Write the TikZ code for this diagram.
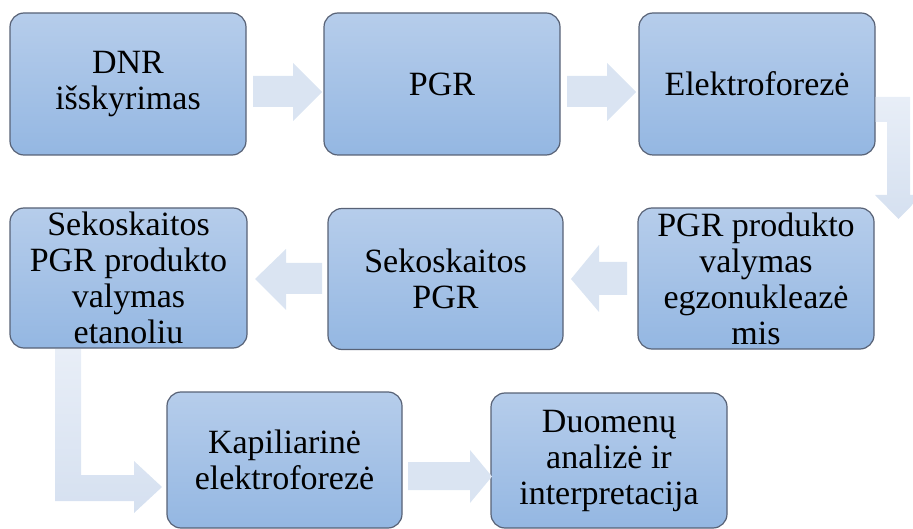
\documentclass[tikz,border=0pt]{standalone}
\usepackage{fontspec}
\setmainfont{Liberation Serif}
\definecolor{boxtop}{RGB}{182,205,235}
\definecolor{boxbot}{RGB}{148,183,226}
\definecolor{boxline}{RGB}{88,98,118}
\definecolor{arrfill}{RGB}{218,228,242}
\definecolor{arrtop}{RGB}{232,238,247}
\definecolor{arrbot}{RGB}{213,224,240}
\begin{document}
\begin{tikzpicture}[x=1pt,y=-1pt,
  stepbox/.style={draw=boxline,line width=1.2pt,rounded corners=14pt,
    top color=boxtop,bottom color=boxbot,align=center,inner sep=0pt,
    minimum width=236pt,font=\fontsize{34}{36}\selectfont},
  blockarrow/.style={fill=arrfill,draw=none},
  bentarrow/.style={top color=arrtop,bottom color=arrbot,draw=none}]
\useasboundingbox (0,0) rectangle (913,529);
\begin{scope}
\clip (0,0) rectangle (913,529);
% boxes
\node[stepbox,minimum height=142pt] (b1) at (128,84) {DNR\\išskyrimas};
\node[stepbox,minimum height=142pt] (b2) at (442,84) {PGR};
\node[stepbox,minimum height=142pt] (b3) at (757,84) {Elektroforezė};
\node[stepbox,minimum height=141pt] (b4) at (756,278.5) {PGR produkto\\valymas\\egzonukleazė\\mis};
\node[stepbox,minimum height=141pt,minimum width=235pt] (b5) at (445.5,279) {Sekoskaitos\\PGR};
\node[stepbox,minimum height=140pt,minimum width=237pt] (b6) at (128.5,278) {Sekoskaitos\\PGR produkto\\valymas\\etanoliu};
\node[stepbox,minimum height=136pt,minimum width=235pt] (b7) at (284.5,460) {Kapiliarinė\\elektroforezė};
\node[stepbox,minimum height=135pt] (b8) at (609,460.5) {Duomenų\\analizė ir\\interpretacija};
% arrows
\path[blockarrow] (253,76)--(293,76)--(293,63)--(322,92)--(293,121)--(293,107)--(253,107)--cycle;
\path[blockarrow] (567,76)--(607,76)--(607,63)--(636,92)--(607,121)--(607,107)--(567,107)--cycle;
\path[bentarrow] (b3.east |- 0,97)--(910,97)--(910,195)--(922,195)--(898.5,219)--(875,195)--(887,195)--(887,122)--(b3.east |- 0,122)--cycle;
\path[blockarrow] (627,262)--(599,262)--(599,245)--(571,279)--(599,312)--(599,295)--(627,295)--cycle;
\path[blockarrow] (322,263)--(286,263)--(286,249)--(255,279)--(286,310)--(286,294)--(322,294)--cycle;
\path[bentarrow] (55,349)--(81,349)--(81,475)--(134,475)--(134,461)--(162,487)--(134,513)--(134,501)--(55,501)--cycle;
\path[blockarrow] (408,462)--(470,462)--(470,450)--(492,476.5)--(470,503)--(470,490)--(408,490)--cycle;
\end{scope}
\end{tikzpicture}
\end{document}
